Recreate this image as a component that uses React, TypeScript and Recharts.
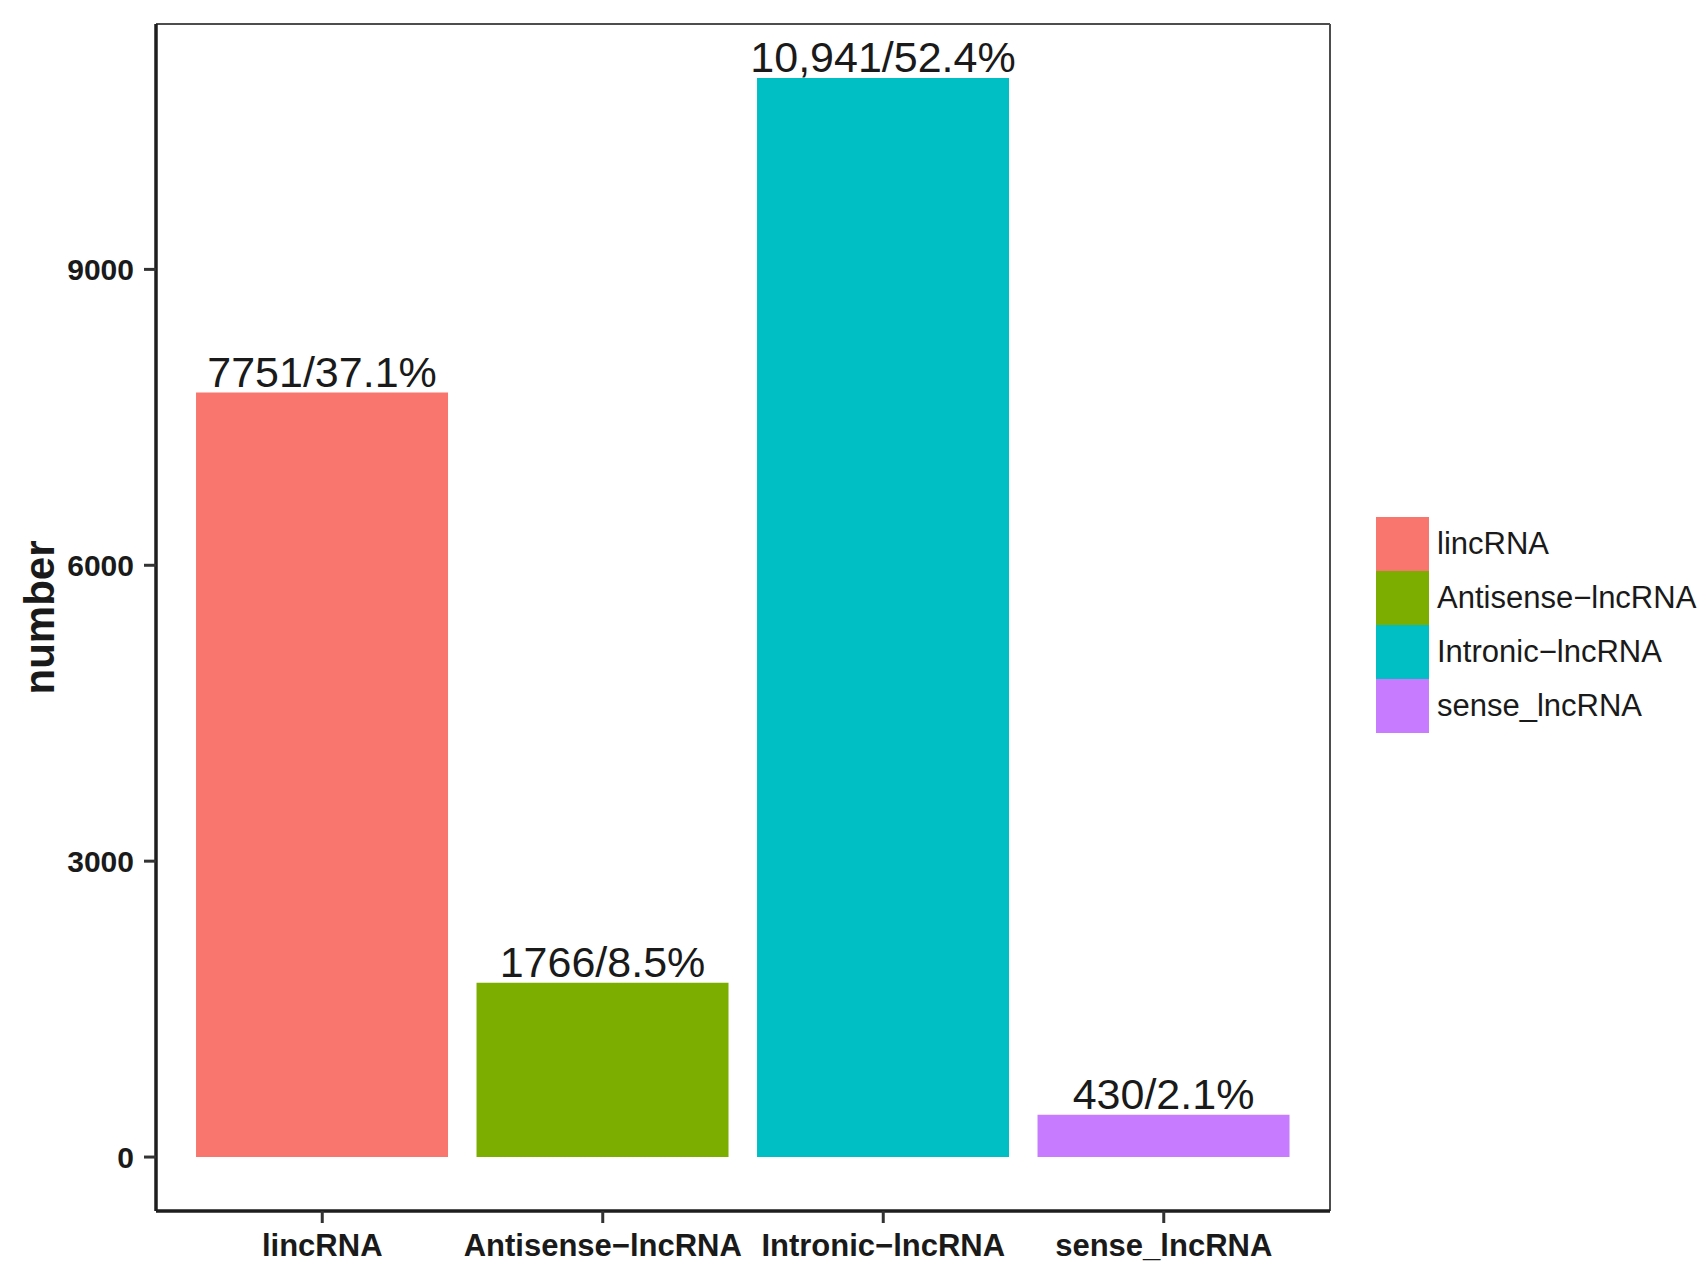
import React from 'react';
import { BarChart, Bar, XAxis, YAxis, CartesianGrid, Cell, LabelList, Legend } from 'recharts';

const categories = ['lincRNA', 'Antisense−lncRNA', 'Intronic−lncRNA', 'sense_lncRNA'];
const counts = [7751, 1766, 10941, 430];
const barLabels = ['7751/37.1%', '1766/8.5%', '10,941/52.4%', '430/2.1%'];
const colors = ['#F8766D', '#7CAE00', '#00BFC4', '#C77CFF'];
const yTicks = [0, 3000, 6000, 9000];

const data = categories.map((name, i) => ({ name, value: counts[i], label: barLabels[i] }));

// ggplot-style 5% expansion of the y range
const maxCount = Math.max(...counts);
const yPad = maxCount * 0.05;
const yDomain = [-yPad, maxCount + yPad];

const font = '"Liberation Sans", Arial, Helvetica, sans-serif';
const ink = '#1a1a1a';

const BarValueLabel = (props: any) => {
  const { x, y, width, value } = props;
  return (
    <text x={x + width / 2} y={y - 6} textAnchor="middle" fontFamily={font} fontSize={43} fill={ink}>
      {value}
    </text>
  );
};

const YTitle = (props: any) => {
  const { viewBox } = props;
  const cx = viewBox.x + 54;
  const cy = viewBox.y + viewBox.height / 2;
  return (
    <text x={cx} y={cy} transform={`rotate(-90 ${cx} ${cy})`} textAnchor="middle" fontFamily={font} fontSize={42} fontWeight="bold" fill={ink}>
      number
    </text>
  );
};

const LegendContent = () => (
  <div style={{ fontFamily: font, fontSize: 31, color: ink }}>
    {categories.map((c, i) => (
      <div key={c} style={{ display: 'flex', alignItems: 'center', height: 54 }}>
        <div style={{ width: 53, height: 54, background: colors[i] }} />
        <span style={{ marginLeft: 8, whiteSpace: 'nowrap' }}>{c}</span>
      </div>
    ))}
  </div>
);

export default function App() {
  return (
    <div style={{ position: 'absolute', left: 0, top: 0, width: 1708, height: 1272, background: '#fff' }}>
      <BarChart
        width={1708}
        height={1272}
        data={data}
        margin={{ top: 24, right: 378, bottom: 0, left: 0 }}
        barCategoryGap="5%"
      >
        <CartesianGrid
          stroke="#4d4d4d"
          strokeWidth={2}
          horizontalCoordinatesGenerator={({ offset }: any) => [offset.top]}
          verticalCoordinatesGenerator={({ offset }: any) => [offset.left + offset.width]}
        />
        <XAxis
          dataKey="name"
          height={61}
          interval={0}
          padding={{ left: 26, right: 26 }}
          axisLine={{ stroke: '#1e1e1e', strokeWidth: 3.5 }}
          tickLine={{ stroke: '#333', strokeWidth: 3 }}
          tickSize={12}
          tickMargin={11}
          tick={{ fontSize: 31, fontWeight: 'bold', fill: ink, fontFamily: font }}
        />
        <YAxis
          width={156}
          domain={yDomain}
          allowDataOverflow={true}
          ticks={yTicks}
          interval={0}
          axisLine={{ stroke: '#1e1e1e', strokeWidth: 3.5 }}
          tickLine={{ stroke: '#333', strokeWidth: 3 }}
          tickSize={12}
          tickMargin={10}
          tick={{ fontSize: 30, fontWeight: 'bold', fill: ink, fontFamily: font }}
          label={<YTitle />}
        />
        <Legend
          layout="horizontal"
          align="center"
          verticalAlign="middle"
          content={<LegendContent />}
          wrapperStyle={{ left: 1376, top: 517, width: 332, height: 216 }}
        />
        <Bar dataKey="value" isAnimationActive={false}>
          {data.map((d, i) => (
            <Cell key={d.name} fill={colors[i]} />
          ))}
          <LabelList dataKey="label" content={<BarValueLabel />} />
        </Bar>
      </BarChart>
    </div>
  );
}
